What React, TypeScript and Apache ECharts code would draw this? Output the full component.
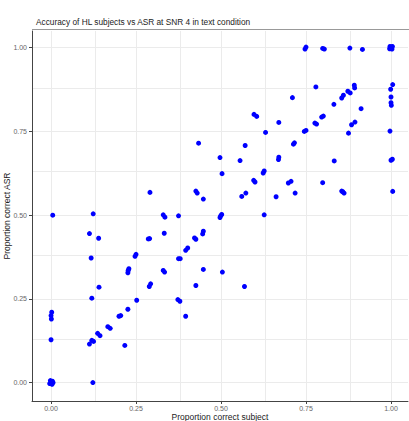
import React, { useEffect, useRef } from "react";
import * as echarts from "echarts";

const titleText = "Accuracy of HL subjects vs ASR at SNR 4 in text condition";
const xAxisName = "Proportion correct subject";
const yAxisName = "Proportion correct ASR";
const tickValues = [0, 0.25, 0.5, 0.75, 1];
const gridValues = [0, 0.125, 0.25, 0.375, 0.5, 0.625, 0.75, 0.875, 1];

// proportion correct subject (x) and proportion correct ASR (y)
const subjectCorrect = [
  0, 0.004, -0.004, 0.003, -0.002, 0.006, 0, 0.001, 0, 0.002, 0.005,
  0.123, 0.113, 0.125, 0.12, 0.137, 0.144, 0.12, 0.141, 0.118, 0.113, 0.14, 0.124,
  0.167, 0.174, 0.2, 0.205, 0.217, 0.226, 0.227, 0.226, 0.229, 0.247, 0.25, 0.252,
  0.289, 0.293, 0.286, 0.29, 0.291, 0.33, 0.335, 0.333, 0.33, 0.334,
  0.373, 0.379, 0.375, 0.38, 0.375, 0.396, 0.396, 0.402, 0.426, 0.422, 0.446, 0.448,
  0.426, 0.448, 0.426, 0.43, 0.448, 0.434,
  0.497, 0.503, 0.499, 0.502, 0.497, 0.504, 0.556, 0.561, 0.573, 0.569, 0.571,
  0.597, 0.605, 0.6, 0.596, 0.624, 0.627, 0.627, 0.631, 0.662, 0.669, 0.67, 0.67,
  0.698, 0.706, 0.718, 0.71, 0.713, 0.716, 0.747, 0.75, 0.75, 0.745,
  0.776, 0.781, 0.779, 0.799, 0.796, 0.801, 0.799, 0.804, 0.832, 0.833,
  0.855, 0.862, 0.858, 0.855, 0.86, 0.873, 0.88, 0.892, 0.893, 0.875, 0.884, 0.894,
  0.879, 0.912, 0.916,
  1, 1.004, 0.996, 1.003, 0.997, 1.005, 0.999, 1, 1, 1.001, 0.997, 1.004, 1, 1.005,
];
const asrCorrect = [
  0, 0.004, -0.003, -0.005, 0.006, 0, 0.128, 0.19, 0.2, 0.21, 0.5,
  0, 0.115, 0.123, 0.126, 0.147, 0.14, 0.252, 0.285, 0.372, 0.445, 0.431, 0.504,
  0.167, 0.162, 0.198, 0.2, 0.111, 0.219, 0.335, 0.328, 0.34, 0.377, 0.383, 0.246,
  0.287, 0.295, 0.429, 0.43, 0.568, 0.501, 0.494, 0.446, 0.335, 0.33,
  0.248, 0.243, 0.37, 0.37, 0.498, 0.198, 0.395, 0.402, 0.428, 0.432, 0.444, 0.452,
  0.29, 0.338, 0.572, 0.566, 0.548, 0.715,
  0.672, 0.624, 0.498, 0.502, 0.493, 0.33, 0.663, 0.556, 0.566, 0.287, 0.708,
  0.801, 0.795, 0.599, 0.604, 0.626, 0.632, 0.501, 0.747, 0.555, 0.666, 0.673, 0.777,
  0.596, 0.601, 0.566, 0.851, 0.712, 0.716, 0.996, 1.002, 0.753, 0.75,
  0.775, 0.772, 0.883, 0.597, 0.793, 0.796, 0.998, 0.996, 0.831, 0.662,
  0.572, 0.566, 0.57, 0.85, 0.858, 0.87, 0.865, 0.888, 0.88, 0.745, 0.77, 0.778,
  0.999, 0.818, 0.995,
  1, 1.004, 0.997, 0.996, 1.004, 0.89, 0.876, 0.853, 0.836, 0.828, 0.751, 0.667, 0.664, 0.571,
];

const FONT = "Liberation Sans, Arial, sans-serif";

export default function App() {
  const ref = useRef<HTMLDivElement>(null);
  useEffect(() => {
    if (!ref.current) return;
    const chart = echarts.init(ref.current, null, { renderer: "svg" });
    const points = subjectCorrect.map((x, i) => [x, asrCorrect[i]]);
    const fmt = (v: number) => v.toFixed(2);
    const axisCommon = {
      type: "value" as const,
      nameLocation: "middle" as const,
      nameMoveOverlap: false,
      nameTextStyle: { fontSize: 8.5, color: "#222", fontFamily: FONT },
      axisLine: { show: true, onZero: false, lineStyle: { color: "#444", width: 1 } },
      axisTick: { show: true, length: 3, customValues: tickValues, lineStyle: { color: "#444" } },
      axisLabel: {
        customValues: tickValues,
        formatter: fmt,
        fontSize: 7,
        color: "#666",
        fontFamily: FONT,
      },
      splitLine: { show: false },
      z: 10,
    };
    chart.setOption({
      animation: false,
      title: {
        text: titleText,
        left: 31,
        top: 13,
        textStyle: { fontSize: 8.3, fontWeight: "normal", color: "#222", fontFamily: FONT },
      },
      grid: {
        left: 32,
        right: 1,
        top: 31,
        bottom: 20,
        containLabel: false,
        outerBoundsMode: "none",
      },
      xAxis: {
        ...axisCommon,
        min: -0.056,
        max: 1.05,
        name: xAxisName,
        nameGap: 11,
        axisLabel: { ...axisCommon.axisLabel, margin: 4 },
      },
      yAxis: {
        ...axisCommon,
        min: -0.055,
        max: 1.05,
        name: yAxisName,
        nameGap: 21,
        axisLabel: { ...axisCommon.axisLabel, margin: 5 },
      },
      graphic: [
        {
          type: "line",
          shape: { x1: 32, y1: 29.5, x2: 409, y2: 29.5 },
          style: { stroke: "#999", lineWidth: 1 },
          silent: true,
        },
      ],
      series: [
        {
          type: "scatter",
          data: [],
          z: 1,
          silent: true,
          markLine: {
            silent: true,
            z: 1,
            symbol: "none",
            label: { show: false },
            emphasis: { disabled: true },
            lineStyle: { color: "#ebebeb", width: 1, type: "solid" },
            data: [
              ...gridValues.map((v) => ({ xAxis: v })),
              ...gridValues.map((v) => ({ yAxis: v })),
            ],
          },
        },
        {
          type: "scatter",
          data: points,
          z: 5,
          symbol: "circle",
          symbolSize: 5,
          itemStyle: { color: "#0000ff", opacity: 1 },
        },
      ],
    });
    return () => chart.dispose();
  }, []);
  return (
    <div
      ref={ref}
      style={{ position: "fixed", left: 0, top: 0, width: 409, height: 421, background: "#fff" }}
    />
  );
}
